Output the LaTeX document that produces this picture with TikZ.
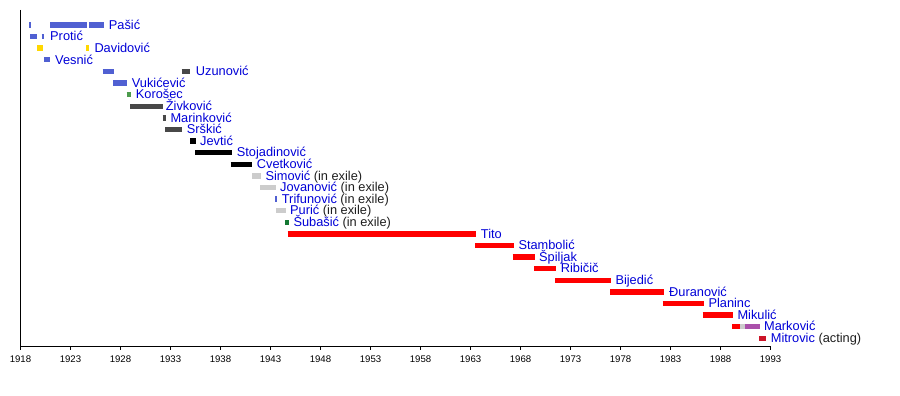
\documentclass[tikz,border=0pt]{standalone}
\usepackage{fontspec}
\setmainfont{Liberation Sans}
\usepackage{xcolor}
\usetikzlibrary{positioning}
\definecolor{radblue}{RGB}{80,96,210}
\definecolor{demyellow}{RGB}{255,215,0}
\definecolor{jrsdgrey}{RGB}{72,72,72}
\definecolor{slsgreen}{RGB}{76,155,76}
\definecolor{exilegrey}{RGB}{204,204,204}
\definecolor{hssgreen}{RGB}{20,120,50}
\definecolor{kpjred}{RGB}{255,0,0}
\definecolor{actred}{RGB}{204,20,40}
\definecolor{refpurple}{RGB}{170,80,170}
\definecolor{pmblue}{RGB}{0,0,215}
\definecolor{notegrey}{RGB}{30,30,30}

\begin{document}
\begin{tikzpicture}[
    x=1pt,y=-1pt,
    bar/.style={line width=5.4pt},
    pm/.style={anchor=base west,inner sep=0pt,text=pmblue,
      font=\fontsize{12.8}{14}\selectfont},
    axis/.style={line width=0.9pt,black},
    yearlbl/.style={anchor=base,inner sep=0pt,font=\fontsize{9.6}{11}\selectfont}
  ]
    \useasboundingbox (0,0) rectangle (900,396);
    % axes
    \draw[axis] (20.5,10) -- (20.5,346) -- (770.5,346);
    \foreach \yr in {1918,1923,...,1993} {
      \pgfmathsetmacro\tx{20.5+10*(\yr-1918)}
      \draw[axis] (\tx,346) -- (\tx,350);
      \node[yearlbl] (y\yr) at (\tx,362) {\yr};
    }
    % bars and names, one row each
    \draw[bar,radblue] (29,25) -- (31,25);
    \draw[bar,radblue] (50,25) -- (86.7,25);
    \draw[bar,radblue] (89,25) -- (104,25);
    \node[pm] (pasic) at (108.7,29.3) {Pašić};
    \draw[bar,radblue] (30,36.6) -- (36.7,36.6);
    \draw[bar,radblue] (41.7,36.6) -- (44,36.6);
    \node[pm] (protic) at (50,40.9) {Protić};
    \draw[bar,demyellow] (37.3,48.2) -- (43,48.2);
    \draw[bar,demyellow] (86,48.2) -- (89,48.2);
    \node[pm] (davidovic) at (94.3,52.5) {Davidović};
    \draw[bar,radblue] (44,59.8) -- (50.3,59.8);
    \node[pm] (vesnic) at (55,64.1) {Vesnić};
    \draw[bar,radblue] (102.7,71.4) -- (114,71.4);
    \draw[bar,jrsdgrey] (181.7,71.4) -- (190.3,71.4);
    \node[pm] (uzunovic) at (195.7,75.7) {Uzunović};
    \draw[bar,radblue] (113.3,83) -- (126.7,83);
    \node[pm] (vukicevic) at (131.7,87.3) {Vukićević};
    \draw[bar,slsgreen] (126.7,94.6) -- (130.7,94.6);
    \node[pm] (korosec) at (135.7,98.9) {Korošec};
    \draw[bar,jrsdgrey] (130,106.2) -- (163.3,106.2);
    \node[pm] (zivkovic) at (165.7,110.5) {Živković};
    \draw[bar,jrsdgrey] (162.7,117.8) -- (165.7,117.8);
    \node[pm] (marinkovic) at (170.3,122.1) {Marinković};
    \draw[bar,jrsdgrey] (165,129.4) -- (181.7,129.4);
    \node[pm] (srskic) at (186.7,133.7) {Srškić};
    \draw[bar,black] (190.3,141) -- (196,141);
    \node[pm] (jevtic) at (200,145.3) {Jevtić};
    \draw[bar,black] (195,152.6) -- (231.7,152.6);
    \node[pm] (stojadinovic) at (236.7,156.9) {Stojadinović};
    \draw[bar,black] (230.7,164.2) -- (252.3,164.2);
    \node[pm] (cvetkovic) at (256.7,168.5) {Cvetković};
    \draw[bar,exilegrey] (252,175.8) -- (261,175.8);
    \node[pm] (simovic) at (265.3,180.1) {Simović {\color{notegrey}(in exile)}};
    \draw[bar,exilegrey] (260,187.4) -- (275.7,187.4);
    \node[pm] (jovanovic) at (280,191.7) {Jovanović {\color{notegrey}(in exile)}};
    \draw[bar,radblue] (275,199) -- (277,199);
    \node[pm] (trifunovic) at (281.7,203.3) {Trifunović {\color{notegrey}(in exile)}};
    \draw[bar,exilegrey] (276,210.6) -- (286,210.6);
    \node[pm] (puric) at (290,214.9) {Purić {\color{notegrey}(in exile)}};
    \draw[bar,hssgreen] (285,222.2) -- (289,222.2);
    \node[pm] (subasic) at (293.3,226.5) {Šubašić {\color{notegrey}(in exile)}};
    \draw[bar,kpjred] (287.7,233.8) -- (475.7,233.8);
    \node[pm] (tito) at (480.7,238.1) {Tito};
    \draw[bar,kpjred] (475,245.4) -- (514,245.4);
    \node[pm] (stambolic) at (518.3,249.7) {Stambolić};
    \draw[bar,kpjred] (512.7,257) -- (535,257);
    \node[pm] (spiljak) at (539,261.3) {Špiljak};
    \draw[bar,kpjred] (534,268.6) -- (556,268.6);
    \node[pm] (ribicic) at (560.7,272.9) {Ribičič};
    \draw[bar,kpjred] (555,280.2) -- (610.7,280.2);
    \node[pm] (bijedic) at (615.3,284.5) {Bijedić};
    \draw[bar,kpjred] (610,291.8) -- (664,291.8);
    \node[pm] (djuranovic) at (669,296.1) {Đuranović};
    \draw[bar,kpjred] (662.7,303.4) -- (704,303.4);
    \node[pm] (planinc) at (708.3,307.7) {Planinc};
    \draw[bar,kpjred] (702.7,315) -- (732.7,315);
    \node[pm] (mikulic) at (737.3,319.3) {Mikulić};
    \draw[bar,kpjred] (732,326.6) -- (740,326.6);
    \draw[bar,exilegrey] (740,326.6) -- (745,326.6);
    \draw[bar,refpurple] (745,326.6) -- (760,326.6);
    \node[pm] (markovic) at (764,330.9) {Marković};
    \draw[bar,actred] (759.3,338.2) -- (766,338.2);
    \node[pm] (mitrovic) at (770.7,342.5) {Mitrovic {\color{notegrey}(acting)}};
\end{tikzpicture}
\end{document}
